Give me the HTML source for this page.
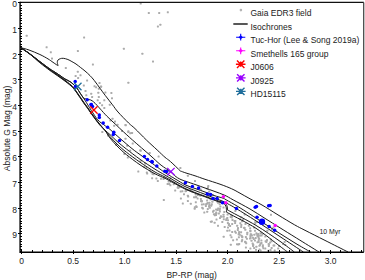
<!DOCTYPE html><html><head><meta charset="utf-8"><style>html,body{margin:0;padding:0;background:#fff;}svg{display:block;}</style></head><body><svg width="365" height="280" viewBox="0 0 365 280">
<rect width="365" height="280" fill="#fff"/>
<g fill="#ababab">
<rect x="25.7" y="34.7" width="2" height="2" rx="0.5"/>
<rect x="83.1" y="36.5" width="2" height="2" rx="0.5"/>
<rect x="45.6" y="46.3" width="2" height="2" rx="0.5"/>
<rect x="49.8" y="51.3" width="2" height="2" rx="0.5"/>
<rect x="76.9" y="50.0" width="2" height="2" rx="0.5"/>
<rect x="51.0" y="57.4" width="2" height="2" rx="0.5"/>
<rect x="139.7" y="2.6" width="2" height="2" rx="0.5"/>
<rect x="147.8" y="12.1" width="2" height="2" rx="0.5"/>
<rect x="158.2" y="12.1" width="2" height="2" rx="0.5"/>
<rect x="166.8" y="11.3" width="2" height="2" rx="0.5"/>
<rect x="159.4" y="23.7" width="2" height="2" rx="0.5"/>
<rect x="156.9" y="25.6" width="2" height="2" rx="0.5"/>
<rect x="122.9" y="47.8" width="2" height="2" rx="0.5"/>
<rect x="141.4" y="52.7" width="2" height="2" rx="0.5"/>
<rect x="152.0" y="60.6" width="2" height="2" rx="0.5"/>
<rect x="127.4" y="81.8" width="2" height="2" rx="0.5"/>
<rect x="97.8" y="87.8" width="2" height="2" rx="0.5"/>
<rect x="100.0" y="85.6" width="2" height="2" rx="0.5"/>
<rect x="97.3" y="91.7" width="2" height="2" rx="0.5"/>
<rect x="104.4" y="91.5" width="2" height="2" rx="0.5"/>
<rect x="110.4" y="91.9" width="2" height="2" rx="0.5"/>
<rect x="97.8" y="96.1" width="2" height="2" rx="0.5"/>
<rect x="111.0" y="97.2" width="2" height="2" rx="0.5"/>
<rect x="96.7" y="99.3" width="2" height="2" rx="0.5"/>
<rect x="103.3" y="99.3" width="2" height="2" rx="0.5"/>
<rect x="98.9" y="102.1" width="2" height="2" rx="0.5"/>
<rect x="101.1" y="104.3" width="2" height="2" rx="0.5"/>
<rect x="108.8" y="103.7" width="2" height="2" rx="0.5"/>
<rect x="103.3" y="107.0" width="2" height="2" rx="0.5"/>
<rect x="95.1" y="86.2" width="2" height="2" rx="0.5"/>
<rect x="111.5" y="117.7" width="2" height="2" rx="0.5"/>
<rect x="113.2" y="124.8" width="2" height="2" rx="0.5"/>
<rect x="116.5" y="123.7" width="2" height="2" rx="0.5"/>
<rect x="124.7" y="124.3" width="2" height="2" rx="0.5"/>
<rect x="127.4" y="130.3" width="2" height="2" rx="0.5"/>
<rect x="130.7" y="132.0" width="2" height="2" rx="0.5"/>
<rect x="127.3" y="131.1" width="2" height="2" rx="0.5"/>
<rect x="131.1" y="131.9" width="2" height="2" rx="0.5"/>
<rect x="124.5" y="137.7" width="2" height="2" rx="0.5"/>
<rect x="131.7" y="142.6" width="2" height="2" rx="0.5"/>
<rect x="126.2" y="144.8" width="2" height="2" rx="0.5"/>
<rect x="139.3" y="149.2" width="2" height="2" rx="0.5"/>
<rect x="148.7" y="151.9" width="2" height="2" rx="0.5"/>
<rect x="139.7" y="149.7" width="2" height="2" rx="0.5"/>
<rect x="157.6" y="155.4" width="2" height="2" rx="0.5"/>
<rect x="179.4" y="166.9" width="2" height="2" rx="0.5"/>
<rect x="152.6" y="173.3" width="2" height="2" rx="0.5"/>
<rect x="151.1" y="177.3" width="2" height="2" rx="0.5"/>
<rect x="155.4" y="177.6" width="2" height="2" rx="0.5"/>
<rect x="169.7" y="177.3" width="2" height="2" rx="0.5"/>
<rect x="186.9" y="174.7" width="2" height="2" rx="0.5"/>
<rect x="194.0" y="180.0" width="2" height="2" rx="0.5"/>
<rect x="101.3" y="131.0" width="2" height="2" rx="0.5"/>
<rect x="107.0" y="134.5" width="2" height="2" rx="0.5"/>
<rect x="115.0" y="143.8" width="2" height="2" rx="0.5"/>
<rect x="123.4" y="153.1" width="2" height="2" rx="0.5"/>
<rect x="126.8" y="156.6" width="2" height="2" rx="0.5"/>
<rect x="129.2" y="149.6" width="2" height="2" rx="0.5"/>
<rect x="124.5" y="124.1" width="2" height="2" rx="0.5"/>
<rect x="129.2" y="132.2" width="2" height="2" rx="0.5"/>
<rect x="121.0" y="129.9" width="2" height="2" rx="0.5"/>
<rect x="114.0" y="120.6" width="2" height="2" rx="0.5"/>
<rect x="109.4" y="119.4" width="2" height="2" rx="0.5"/>
<rect x="137.3" y="170.5" width="2" height="2" rx="0.5"/>
<rect x="144.2" y="162.4" width="2" height="2" rx="0.5"/>
<rect x="119.0" y="139.5" width="2" height="2" rx="0.5"/>
<rect x="270.0" y="213.8" width="2" height="2" rx="0.5"/>
<rect x="64.8" y="66.9" width="2" height="2" rx="0.5"/>
<rect x="91.9" y="63.6" width="2" height="2" rx="0.5"/>
<rect x="76.8" y="70.8" width="2" height="2" rx="0.5"/>
<rect x="74.6" y="75.1" width="2" height="2" rx="0.5"/>
<rect x="79.5" y="74.3" width="2" height="2" rx="0.5"/>
<rect x="77.1" y="77.1" width="2" height="2" rx="0.5"/>
<rect x="86.1" y="79.5" width="2" height="2" rx="0.5"/>
<rect x="98.5" y="82.0" width="2" height="2" rx="0.5"/>
<rect x="82.8" y="84.5" width="2" height="2" rx="0.5"/>
<rect x="93.5" y="85.3" width="2" height="2" rx="0.5"/>
<rect x="100.1" y="85.8" width="2" height="2" rx="0.5"/>
<rect x="84.5" y="89.9" width="2" height="2" rx="0.5"/>
<rect x="90.2" y="92.7" width="2" height="2" rx="0.5"/>
<rect x="91.1" y="96.0" width="2" height="2" rx="0.5"/>
<rect x="85.3" y="94.3" width="2" height="2" rx="0.5"/>
<rect x="162.8" y="199.0" width="2" height="2" rx="0.5"/>
<rect x="139.5" y="160.2" width="2" height="2" rx="0.5"/>
<rect x="143.0" y="166.1" width="2" height="2" rx="0.5"/>
<rect x="145.6" y="166.5" width="2" height="2" rx="0.5"/>
<rect x="149.1" y="169.6" width="2" height="2" rx="0.5"/>
<rect x="145.8" y="171.5" width="2" height="2" rx="0.5"/>
<rect x="150.4" y="171.3" width="2" height="2" rx="0.5"/>
<rect x="146.2" y="172.4" width="2" height="2" rx="0.5"/>
<rect x="151.6" y="172.9" width="2" height="2" rx="0.5"/>
<rect x="162.9" y="176.7" width="2" height="2" rx="0.5"/>
<rect x="160.0" y="177.7" width="2" height="2" rx="0.5"/>
<rect x="162.5" y="178.1" width="2" height="2" rx="0.5"/>
<rect x="156.8" y="180.0" width="2" height="2" rx="0.5"/>
<rect x="167.6" y="180.4" width="2" height="2" rx="0.5"/>
<rect x="169.6" y="180.7" width="2" height="2" rx="0.5"/>
<rect x="166.6" y="183.0" width="2" height="2" rx="0.5"/>
<rect x="173.5" y="182.5" width="2" height="2" rx="0.5"/>
<rect x="168.2" y="183.0" width="2" height="2" rx="0.5"/>
<rect x="172.7" y="183.3" width="2" height="2" rx="0.5"/>
<rect x="169.4" y="184.2" width="2" height="2" rx="0.5"/>
<rect x="207.3" y="184.9" width="2" height="2" rx="0.5"/>
<rect x="177.1" y="185.6" width="2" height="2" rx="0.5"/>
<rect x="178.8" y="186.0" width="2" height="2" rx="0.5"/>
<rect x="176.6" y="186.6" width="2" height="2" rx="0.5"/>
<rect x="207.0" y="186.2" width="2" height="2" rx="0.5"/>
<rect x="177.4" y="187.0" width="2" height="2" rx="0.5"/>
<rect x="206.3" y="187.8" width="2" height="2" rx="0.5"/>
<rect x="189.3" y="188.9" width="2" height="2" rx="0.5"/>
<rect x="199.8" y="188.6" width="2" height="2" rx="0.5"/>
<rect x="174.2" y="189.6" width="2" height="2" rx="0.5"/>
<rect x="185.0" y="190.0" width="2" height="2" rx="0.5"/>
<rect x="185.8" y="189.1" width="2" height="2" rx="0.5"/>
<rect x="179.7" y="190.5" width="2" height="2" rx="0.5"/>
<rect x="181.4" y="190.3" width="2" height="2" rx="0.5"/>
<rect x="184.5" y="190.2" width="2" height="2" rx="0.5"/>
<rect x="190.8" y="190.3" width="2" height="2" rx="0.5"/>
<rect x="208.2" y="190.5" width="2" height="2" rx="0.5"/>
<rect x="183.0" y="193.3" width="2" height="2" rx="0.5"/>
<rect x="194.7" y="193.5" width="2" height="2" rx="0.5"/>
<rect x="196.8" y="193.9" width="2" height="2" rx="0.5"/>
<rect x="211.9" y="193.9" width="2" height="2" rx="0.5"/>
<rect x="186.9" y="194.7" width="2" height="2" rx="0.5"/>
<rect x="198.6" y="194.3" width="2" height="2" rx="0.5"/>
<rect x="199.5" y="194.4" width="2" height="2" rx="0.5"/>
<rect x="187.2" y="195.5" width="2" height="2" rx="0.5"/>
<rect x="195.2" y="195.9" width="2" height="2" rx="0.5"/>
<rect x="207.6" y="195.7" width="2" height="2" rx="0.5"/>
<rect x="193.0" y="196.2" width="2" height="2" rx="0.5"/>
<rect x="194.5" y="196.3" width="2" height="2" rx="0.5"/>
<rect x="206.5" y="196.2" width="2" height="2" rx="0.5"/>
<rect x="179.9" y="197.5" width="2" height="2" rx="0.5"/>
<rect x="196.6" y="197.6" width="2" height="2" rx="0.5"/>
<rect x="199.9" y="198.0" width="2" height="2" rx="0.5"/>
<rect x="209.5" y="198.4" width="2" height="2" rx="0.5"/>
<rect x="186.9" y="199.9" width="2" height="2" rx="0.5"/>
<rect x="200.9" y="199.9" width="2" height="2" rx="0.5"/>
<rect x="206.1" y="199.4" width="2" height="2" rx="0.5"/>
<rect x="200.0" y="200.0" width="2" height="2" rx="0.5"/>
<rect x="200.7" y="200.6" width="2" height="2" rx="0.5"/>
<rect x="211.4" y="200.8" width="2" height="2" rx="0.5"/>
<rect x="216.2" y="200.6" width="2" height="2" rx="0.5"/>
<rect x="218.4" y="200.7" width="2" height="2" rx="0.5"/>
<rect x="194.8" y="201.3" width="2" height="2" rx="0.5"/>
<rect x="208.4" y="201.7" width="2" height="2" rx="0.5"/>
<rect x="217.0" y="201.7" width="2" height="2" rx="0.5"/>
<rect x="181.8" y="202.6" width="2" height="2" rx="0.5"/>
<rect x="189.8" y="202.7" width="2" height="2" rx="0.5"/>
<rect x="205.9" y="202.8" width="2" height="2" rx="0.5"/>
<rect x="206.7" y="202.0" width="2" height="2" rx="0.5"/>
<rect x="200.9" y="203.6" width="2" height="2" rx="0.5"/>
<rect x="202.7" y="203.3" width="2" height="2" rx="0.5"/>
<rect x="205.1" y="203.2" width="2" height="2" rx="0.5"/>
<rect x="208.4" y="203.4" width="2" height="2" rx="0.5"/>
<rect x="210.8" y="203.3" width="2" height="2" rx="0.5"/>
<rect x="218.7" y="203.2" width="2" height="2" rx="0.5"/>
<rect x="208.4" y="204.4" width="2" height="2" rx="0.5"/>
<rect x="210.2" y="204.8" width="2" height="2" rx="0.5"/>
<rect x="195.2" y="205.2" width="2" height="2" rx="0.5"/>
<rect x="204.9" y="205.1" width="2" height="2" rx="0.5"/>
<rect x="208.0" y="205.5" width="2" height="2" rx="0.5"/>
<rect x="219.4" y="205.5" width="2" height="2" rx="0.5"/>
<rect x="193.8" y="206.2" width="2" height="2" rx="0.5"/>
<rect x="195.6" y="206.0" width="2" height="2" rx="0.5"/>
<rect x="201.2" y="206.8" width="2" height="2" rx="0.5"/>
<rect x="208.8" y="206.8" width="2" height="2" rx="0.5"/>
<rect x="222.5" y="206.4" width="2" height="2" rx="0.5"/>
<rect x="193.7" y="207.8" width="2" height="2" rx="0.5"/>
<rect x="201.9" y="207.5" width="2" height="2" rx="0.5"/>
<rect x="206.8" y="207.9" width="2" height="2" rx="0.5"/>
<rect x="217.1" y="207.4" width="2" height="2" rx="0.5"/>
<rect x="219.0" y="207.7" width="2" height="2" rx="0.5"/>
<rect x="215.1" y="208.4" width="2" height="2" rx="0.5"/>
<rect x="216.5" y="208.9" width="2" height="2" rx="0.5"/>
<rect x="212.7" y="209.8" width="2" height="2" rx="0.5"/>
<rect x="218.5" y="209.1" width="2" height="2" rx="0.5"/>
<rect x="234.3" y="210.0" width="2" height="2" rx="0.5"/>
<rect x="206.2" y="210.8" width="2" height="2" rx="0.5"/>
<rect x="212.0" y="210.7" width="2" height="2" rx="0.5"/>
<rect x="218.9" y="210.5" width="2" height="2" rx="0.5"/>
<rect x="203.3" y="211.4" width="2" height="2" rx="0.5"/>
<rect x="215.2" y="211.4" width="2" height="2" rx="0.5"/>
<rect x="223.3" y="211.1" width="2" height="2" rx="0.5"/>
<rect x="214.5" y="212.9" width="2" height="2" rx="0.5"/>
<rect x="215.4" y="212.5" width="2" height="2" rx="0.5"/>
<rect x="217.9" y="212.4" width="2" height="2" rx="0.5"/>
<rect x="212.9" y="213.2" width="2" height="2" rx="0.5"/>
<rect x="215.0" y="213.9" width="2" height="2" rx="0.5"/>
<rect x="222.5" y="213.8" width="2" height="2" rx="0.5"/>
<rect x="226.6" y="213.6" width="2" height="2" rx="0.5"/>
<rect x="243.7" y="213.4" width="2" height="2" rx="0.5"/>
<rect x="213.9" y="214.2" width="2" height="2" rx="0.5"/>
<rect x="230.3" y="214.4" width="2" height="2" rx="0.5"/>
<rect x="219.8" y="215.2" width="2" height="2" rx="0.5"/>
<rect x="220.5" y="215.7" width="2" height="2" rx="0.5"/>
<rect x="222.7" y="215.7" width="2" height="2" rx="0.5"/>
<rect x="231.0" y="215.0" width="2" height="2" rx="0.5"/>
<rect x="219.0" y="216.9" width="2" height="2" rx="0.5"/>
<rect x="229.7" y="216.1" width="2" height="2" rx="0.5"/>
<rect x="230.8" y="216.4" width="2" height="2" rx="0.5"/>
<rect x="240.3" y="216.2" width="2" height="2" rx="0.5"/>
<rect x="225.7" y="217.8" width="2" height="2" rx="0.5"/>
<rect x="226.3" y="217.1" width="2" height="2" rx="0.5"/>
<rect x="215.5" y="218.4" width="2" height="2" rx="0.5"/>
<rect x="222.8" y="218.3" width="2" height="2" rx="0.5"/>
<rect x="239.1" y="218.3" width="2" height="2" rx="0.5"/>
<rect x="242.0" y="218.7" width="2" height="2" rx="0.5"/>
<rect x="225.2" y="219.0" width="2" height="2" rx="0.5"/>
<rect x="227.0" y="219.3" width="2" height="2" rx="0.5"/>
<rect x="231.5" y="219.1" width="2" height="2" rx="0.5"/>
<rect x="233.5" y="219.9" width="2" height="2" rx="0.5"/>
<rect x="234.4" y="219.9" width="2" height="2" rx="0.5"/>
<rect x="209.9" y="220.7" width="2" height="2" rx="0.5"/>
<rect x="210.9" y="220.6" width="2" height="2" rx="0.5"/>
<rect x="241.1" y="220.3" width="2" height="2" rx="0.5"/>
<rect x="213.6" y="221.7" width="2" height="2" rx="0.5"/>
<rect x="221.3" y="221.1" width="2" height="2" rx="0.5"/>
<rect x="234.1" y="222.0" width="2" height="2" rx="0.5"/>
<rect x="254.2" y="221.3" width="2" height="2" rx="0.5"/>
<rect x="256.1" y="221.1" width="2" height="2" rx="0.5"/>
<rect x="226.9" y="222.0" width="2" height="2" rx="0.5"/>
<rect x="239.3" y="222.3" width="2" height="2" rx="0.5"/>
<rect x="244.5" y="222.9" width="2" height="2" rx="0.5"/>
<rect x="254.3" y="222.5" width="2" height="2" rx="0.5"/>
<rect x="260.3" y="222.2" width="2" height="2" rx="0.5"/>
<rect x="228.0" y="223.1" width="2" height="2" rx="0.5"/>
<rect x="231.2" y="223.1" width="2" height="2" rx="0.5"/>
<rect x="240.3" y="224.0" width="2" height="2" rx="0.5"/>
<rect x="217.0" y="224.8" width="2" height="2" rx="0.5"/>
<rect x="227.8" y="224.0" width="2" height="2" rx="0.5"/>
<rect x="236.1" y="224.7" width="2" height="2" rx="0.5"/>
<rect x="247.9" y="224.7" width="2" height="2" rx="0.5"/>
<rect x="223.7" y="226.0" width="2" height="2" rx="0.5"/>
<rect x="229.1" y="225.0" width="2" height="2" rx="0.5"/>
<rect x="227.0" y="226.5" width="2" height="2" rx="0.5"/>
<rect x="237.0" y="226.9" width="2" height="2" rx="0.5"/>
<rect x="240.2" y="226.1" width="2" height="2" rx="0.5"/>
<rect x="243.3" y="226.7" width="2" height="2" rx="0.5"/>
<rect x="253.1" y="226.6" width="2" height="2" rx="0.5"/>
<rect x="272.4" y="226.4" width="2" height="2" rx="0.5"/>
<rect x="243.3" y="227.1" width="2" height="2" rx="0.5"/>
<rect x="249.2" y="227.2" width="2" height="2" rx="0.5"/>
<rect x="236.8" y="228.9" width="2" height="2" rx="0.5"/>
<rect x="244.3" y="228.8" width="2" height="2" rx="0.5"/>
<rect x="270.9" y="228.2" width="2" height="2" rx="0.5"/>
<rect x="226.3" y="229.7" width="2" height="2" rx="0.5"/>
<rect x="228.5" y="229.4" width="2" height="2" rx="0.5"/>
<rect x="249.3" y="229.7" width="2" height="2" rx="0.5"/>
<rect x="254.0" y="229.7" width="2" height="2" rx="0.5"/>
<rect x="266.4" y="229.7" width="2" height="2" rx="0.5"/>
<rect x="231.2" y="230.9" width="2" height="2" rx="0.5"/>
<rect x="234.1" y="230.6" width="2" height="2" rx="0.5"/>
<rect x="238.1" y="230.9" width="2" height="2" rx="0.5"/>
<rect x="249.4" y="230.2" width="2" height="2" rx="0.5"/>
<rect x="234.9" y="231.8" width="2" height="2" rx="0.5"/>
<rect x="238.1" y="231.9" width="2" height="2" rx="0.5"/>
<rect x="240.1" y="231.2" width="2" height="2" rx="0.5"/>
<rect x="246.3" y="231.8" width="2" height="2" rx="0.5"/>
<rect x="260.7" y="231.9" width="2" height="2" rx="0.5"/>
<rect x="255.4" y="232.2" width="2" height="2" rx="0.5"/>
<rect x="257.2" y="232.9" width="2" height="2" rx="0.5"/>
<rect x="259.5" y="232.2" width="2" height="2" rx="0.5"/>
<rect x="237.6" y="233.3" width="2" height="2" rx="0.5"/>
<rect x="238.6" y="233.8" width="2" height="2" rx="0.5"/>
<rect x="246.2" y="233.2" width="2" height="2" rx="0.5"/>
<rect x="249.6" y="233.2" width="2" height="2" rx="0.5"/>
<rect x="250.3" y="233.4" width="2" height="2" rx="0.5"/>
<rect x="253.4" y="233.8" width="2" height="2" rx="0.5"/>
<rect x="256.3" y="233.8" width="2" height="2" rx="0.5"/>
<rect x="261.6" y="233.3" width="2" height="2" rx="0.5"/>
<rect x="229.5" y="234.3" width="2" height="2" rx="0.5"/>
<rect x="240.5" y="234.8" width="2" height="2" rx="0.5"/>
<rect x="250.9" y="234.5" width="2" height="2" rx="0.5"/>
<rect x="257.4" y="234.2" width="2" height="2" rx="0.5"/>
<rect x="259.2" y="234.6" width="2" height="2" rx="0.5"/>
<rect x="260.5" y="234.6" width="2" height="2" rx="0.5"/>
<rect x="222.7" y="235.8" width="2" height="2" rx="0.5"/>
<rect x="241.1" y="235.7" width="2" height="2" rx="0.5"/>
<rect x="249.4" y="235.1" width="2" height="2" rx="0.5"/>
<rect x="256.5" y="235.1" width="2" height="2" rx="0.5"/>
<rect x="257.3" y="235.3" width="2" height="2" rx="0.5"/>
<rect x="264.3" y="235.5" width="2" height="2" rx="0.5"/>
<rect x="230.5" y="236.2" width="2" height="2" rx="0.5"/>
<rect x="237.9" y="236.2" width="2" height="2" rx="0.5"/>
<rect x="241.3" y="236.3" width="2" height="2" rx="0.5"/>
<rect x="244.9" y="236.0" width="2" height="2" rx="0.5"/>
<rect x="252.0" y="236.8" width="2" height="2" rx="0.5"/>
<rect x="257.5" y="236.4" width="2" height="2" rx="0.5"/>
<rect x="245.9" y="237.8" width="2" height="2" rx="0.5"/>
<rect x="249.0" y="237.6" width="2" height="2" rx="0.5"/>
<rect x="249.6" y="237.0" width="2" height="2" rx="0.5"/>
<rect x="254.7" y="237.1" width="2" height="2" rx="0.5"/>
<rect x="258.1" y="237.7" width="2" height="2" rx="0.5"/>
<rect x="235.9" y="238.4" width="2" height="2" rx="0.5"/>
<rect x="252.8" y="238.1" width="2" height="2" rx="0.5"/>
<rect x="266.0" y="238.9" width="2" height="2" rx="0.5"/>
<rect x="269.8" y="238.4" width="2" height="2" rx="0.5"/>
<rect x="232.1" y="239.3" width="2" height="2" rx="0.5"/>
<rect x="241.2" y="239.1" width="2" height="2" rx="0.5"/>
<rect x="250.5" y="239.7" width="2" height="2" rx="0.5"/>
<rect x="254.0" y="239.5" width="2" height="2" rx="0.5"/>
<rect x="257.7" y="239.3" width="2" height="2" rx="0.5"/>
<rect x="260.4" y="239.5" width="2" height="2" rx="0.5"/>
<rect x="265.9" y="239.5" width="2" height="2" rx="0.5"/>
<rect x="240.8" y="240.2" width="2" height="2" rx="0.5"/>
<rect x="244.1" y="240.7" width="2" height="2" rx="0.5"/>
<rect x="257.7" y="240.9" width="2" height="2" rx="0.5"/>
<rect x="264.6" y="240.2" width="2" height="2" rx="0.5"/>
<rect x="265.4" y="241.0" width="2" height="2" rx="0.5"/>
<rect x="270.6" y="240.2" width="2" height="2" rx="0.5"/>
<rect x="283.6" y="240.9" width="2" height="2" rx="0.5"/>
<rect x="244.5" y="241.3" width="2" height="2" rx="0.5"/>
<rect x="256.5" y="241.2" width="2" height="2" rx="0.5"/>
<rect x="260.5" y="242.0" width="2" height="2" rx="0.5"/>
<rect x="269.1" y="241.4" width="2" height="2" rx="0.5"/>
<rect x="245.2" y="242.3" width="2" height="2" rx="0.5"/>
<rect x="251.6" y="242.6" width="2" height="2" rx="0.5"/>
<rect x="259.6" y="242.6" width="2" height="2" rx="0.5"/>
<rect x="267.7" y="243.0" width="2" height="2" rx="0.5"/>
<rect x="229.8" y="243.8" width="2" height="2" rx="0.5"/>
<rect x="236.0" y="243.2" width="2" height="2" rx="0.5"/>
<rect x="237.4" y="243.6" width="2" height="2" rx="0.5"/>
<rect x="238.2" y="243.1" width="2" height="2" rx="0.5"/>
<rect x="252.2" y="243.4" width="2" height="2" rx="0.5"/>
<rect x="259.1" y="243.8" width="2" height="2" rx="0.5"/>
<rect x="267.9" y="243.4" width="2" height="2" rx="0.5"/>
<rect x="282.1" y="243.1" width="2" height="2" rx="0.5"/>
<rect x="252.1" y="244.1" width="2" height="2" rx="0.5"/>
<rect x="258.5" y="244.8" width="2" height="2" rx="0.5"/>
<rect x="261.9" y="244.2" width="2" height="2" rx="0.5"/>
<rect x="272.5" y="244.4" width="2" height="2" rx="0.5"/>
<rect x="273.3" y="244.5" width="2" height="2" rx="0.5"/>
<rect x="278.2" y="244.9" width="2" height="2" rx="0.5"/>
<rect x="284.2" y="244.1" width="2" height="2" rx="0.5"/>
<rect x="252.1" y="245.1" width="2" height="2" rx="0.5"/>
<rect x="255.4" y="245.8" width="2" height="2" rx="0.5"/>
<rect x="261.9" y="245.7" width="2" height="2" rx="0.5"/>
<rect x="267.8" y="245.1" width="2" height="2" rx="0.5"/>
<rect x="244.9" y="246.4" width="2" height="2" rx="0.5"/>
<rect x="270.6" y="246.9" width="2" height="2" rx="0.5"/>
<rect x="249.4" y="247.6" width="2" height="2" rx="0.5"/>
<rect x="253.1" y="247.1" width="2" height="2" rx="0.5"/>
<rect x="262.4" y="247.2" width="2" height="2" rx="0.5"/>
<rect x="264.3" y="247.6" width="2" height="2" rx="0.5"/>
<rect x="277.2" y="247.6" width="2" height="2" rx="0.5"/>
<rect x="255.0" y="248.7" width="2" height="2" rx="0.5"/>
<rect x="258.5" y="248.6" width="2" height="2" rx="0.5"/>
<rect x="269.5" y="248.9" width="2" height="2" rx="0.5"/>
<rect x="259.6" y="249.4" width="2" height="2" rx="0.5"/>
<rect x="267.2" y="249.7" width="2" height="2" rx="0.5"/>
<rect x="273.7" y="249.4" width="2" height="2" rx="0.5"/>
</g>
<g fill="none" stroke="#1a1a1a" stroke-width="1.0" stroke-linejoin="round">
<path d="M20.50,47.60 C21.92,48.00 25.77,48.85 29.00,50.00 C32.23,51.15 36.73,53.02 39.90,54.50 C43.07,55.98 45.82,57.60 48.00,58.90 C50.18,60.20 51.62,61.35 53.00,62.30 C54.38,63.25 55.45,64.05 56.30,64.60 C57.15,65.15 57.80,65.43 58.10,65.60 C57.97,65.10 57.33,63.52 57.30,62.60 C57.27,61.68 57.40,60.75 57.90,60.10 C58.40,59.45 59.40,59.00 60.30,58.70 C61.20,58.40 62.03,58.17 63.30,58.30 C64.57,58.43 66.47,58.95 67.90,59.50 C69.33,60.05 70.55,60.85 71.90,61.60 C73.25,62.35 74.53,63.00 76.00,64.00 C77.47,65.00 79.20,66.43 80.70,67.60 C82.20,68.77 83.45,69.67 85.00,71.00 C86.55,72.33 88.45,74.02 90.00,75.60 C91.55,77.18 92.63,78.38 94.30,80.50 C95.97,82.62 98.17,85.80 100.00,88.30 C101.83,90.80 103.22,92.75 105.30,95.50 C107.38,98.25 110.38,102.05 112.50,104.80 C114.62,107.55 115.32,108.97 118.00,112.00 C120.68,115.03 125.77,120.23 128.60,123.00 C131.43,125.77 132.03,125.77 135.00,128.60 C137.97,131.43 142.70,136.43 146.40,140.00 C150.10,143.57 154.10,147.12 157.20,150.00 C160.30,152.88 162.78,155.37 165.00,157.30 C167.22,159.23 167.93,159.32 170.50,161.60 C173.07,163.88 178.75,169.43 180.40,171.00 C181.33,171.33 183.57,172.20 186.00,173.00 C188.43,173.80 191.83,174.75 195.00,175.80 C198.17,176.85 200.83,177.90 205.00,179.30 C209.17,180.70 215.55,182.62 220.00,184.20 C224.45,185.78 228.37,187.30 231.70,188.80 C235.03,190.30 236.95,191.53 240.00,193.20 C243.05,194.87 246.33,196.83 250.00,198.80 C253.67,200.77 257.33,202.32 262.00,205.00 C266.67,207.68 272.55,211.58 278.00,214.90 C283.45,218.22 290.20,222.33 294.70,224.90 C299.20,227.47 299.95,227.72 305.00,230.30 C310.05,232.88 317.83,236.78 325.00,240.40 C332.17,244.02 344.17,250.07 348.00,252.00"/>
<path d="M20.50,47.60 C21.92,48.53 25.77,50.87 29.00,53.20 C32.23,55.53 36.43,58.98 39.90,61.60 C43.37,64.22 47.28,67.13 49.80,68.90 C52.32,70.67 53.30,71.10 55.00,72.20 C56.70,73.30 58.33,74.37 60.00,75.50 C61.67,76.63 63.18,77.88 65.00,79.00 C66.82,80.12 68.97,80.75 70.90,82.20 C72.83,83.65 75.07,85.88 76.60,87.70 C78.13,89.52 78.93,91.35 80.10,93.10 C81.27,94.85 83.02,97.35 83.60,98.20 C84.23,98.38 86.22,99.00 87.40,99.30 C88.58,99.60 89.68,99.58 90.70,100.00 C91.72,100.42 92.45,100.92 93.50,101.80 C94.55,102.68 95.83,104.07 97.00,105.30 C98.17,106.53 98.87,107.40 100.50,109.20 C102.13,111.00 104.35,113.63 106.80,116.10 C109.25,118.57 112.83,121.77 115.20,124.00 C117.57,126.23 118.08,126.80 121.00,129.50 C123.92,132.20 127.87,135.92 132.70,140.20 C137.53,144.48 145.45,151.18 150.00,155.20 C154.55,159.22 157.23,162.00 160.00,164.30 C162.77,166.60 164.83,167.73 166.60,169.00 C168.37,170.27 169.30,170.83 170.60,171.90 C171.90,172.97 173.23,174.42 174.40,175.40 C175.57,176.38 176.50,177.10 177.60,177.80 C178.70,178.50 179.60,179.00 181.00,179.60 C182.40,180.20 183.50,180.53 186.00,181.40 C188.50,182.27 192.83,183.70 196.00,184.80 C199.17,185.90 202.00,186.93 205.00,188.00 C208.00,189.07 210.70,189.98 214.00,191.20 C217.30,192.42 221.60,193.85 224.80,195.30 C228.00,196.75 229.00,197.62 233.20,199.90 C237.40,202.18 244.70,205.92 250.00,209.00 C255.30,212.08 260.00,215.27 265.00,218.40 C270.00,221.53 274.77,224.53 280.00,227.80 C285.23,231.07 289.90,233.97 296.40,238.00 C302.90,242.03 315.23,249.67 319.00,252.00"/>
<path d="M20.50,47.60 C21.92,48.53 25.77,50.87 29.00,53.20 C32.23,55.53 36.43,58.98 39.90,61.60 C43.37,64.22 47.28,67.13 49.80,68.90 C52.32,70.67 53.30,71.10 55.00,72.20 C56.70,73.30 58.33,74.37 60.00,75.50 C61.67,76.63 63.18,77.88 65.00,79.00 C66.82,80.12 68.97,80.75 70.90,82.20 C72.83,83.65 75.07,85.88 76.60,87.70 C78.13,89.52 78.93,91.35 80.10,93.10 C81.27,94.85 82.57,96.65 83.60,98.20 C84.63,99.75 85.32,100.83 86.30,102.40 C87.28,103.97 88.38,105.83 89.50,107.60 C90.62,109.37 91.92,111.33 93.00,113.00 C94.08,114.67 94.92,116.17 96.00,117.60 C97.08,119.03 98.32,120.50 99.50,121.60 C100.68,122.70 101.78,123.22 103.10,124.20 C104.42,125.18 106.25,126.63 107.40,127.50 C108.55,128.37 107.90,127.58 110.00,129.40 C112.10,131.22 116.33,135.20 120.00,138.40 C123.67,141.60 128.67,145.90 132.00,148.60 C135.33,151.30 137.00,152.40 140.00,154.60 C143.00,156.80 147.00,159.63 150.00,161.80 C153.00,163.97 155.50,165.80 158.00,167.60 C160.50,169.40 161.67,170.43 165.00,172.60 C168.33,174.77 174.50,178.50 178.00,180.60 C181.50,182.70 183.00,183.83 186.00,185.20 C189.00,186.57 192.83,187.67 196.00,188.80 C199.17,189.93 202.00,190.88 205.00,192.00 C208.00,193.12 210.98,194.47 214.00,195.50 C217.02,196.53 221.08,197.48 223.10,198.20 C225.12,198.92 223.62,198.40 226.10,199.80 C228.58,201.20 234.02,204.20 238.00,206.60 C241.98,209.00 245.50,211.30 250.00,214.20 C254.50,217.10 260.00,220.77 265.00,224.00 C270.00,227.23 275.00,230.43 280.00,233.60 C285.00,236.77 289.92,239.93 295.00,243.00 C300.08,246.07 307.92,250.50 310.50,252.00"/>
<path d="M20.50,47.60 C21.92,48.57 25.77,51.02 29.00,53.40 C32.23,55.78 36.43,59.22 39.90,61.90 C43.37,64.58 47.28,67.63 49.80,69.50 C52.32,71.37 53.30,71.92 55.00,73.10 C56.70,74.28 58.17,75.28 60.00,76.60 C61.83,77.92 63.93,79.38 66.00,81.00 C68.07,82.62 70.80,84.75 72.40,86.30 C74.00,87.85 74.52,88.83 75.60,90.30 C76.68,91.77 77.95,93.73 78.90,95.10 C79.85,96.47 80.52,97.35 81.30,98.50 C82.08,99.65 82.48,100.42 83.60,102.00 C84.72,103.58 86.60,106.02 88.00,108.00 C89.40,109.98 90.67,112.02 92.00,113.90 C93.33,115.78 94.67,117.55 96.00,119.30 C97.33,121.05 98.53,122.62 100.00,124.40 C101.47,126.18 103.13,128.30 104.80,130.00 C106.47,131.70 107.80,132.57 110.00,134.60 C112.20,136.63 115.27,139.80 118.00,142.20 C120.73,144.60 122.73,146.15 126.40,149.00 C130.07,151.85 135.23,155.93 140.00,159.30 C144.77,162.67 150.83,166.57 155.00,169.20 C159.17,171.83 161.17,172.83 165.00,175.10 C168.83,177.37 174.50,180.82 178.00,182.80 C181.50,184.78 183.00,185.65 186.00,187.00 C189.00,188.35 192.83,189.68 196.00,190.90 C199.17,192.12 202.00,193.13 205.00,194.30 C208.00,195.47 210.80,196.65 214.00,197.90 C217.20,199.15 221.87,200.80 224.20,201.80 C226.53,202.80 225.98,202.77 228.00,203.90 C230.02,205.03 231.63,205.77 236.30,208.60 C240.97,211.43 248.72,216.23 256.00,220.90 C263.28,225.57 272.10,231.42 280.00,236.60 C287.90,241.78 299.50,249.43 303.40,252.00"/>
<path d="M20.50,47.60 C21.92,48.57 25.77,51.02 29.00,53.40 C32.23,55.78 36.43,59.14 39.90,61.90 C43.37,64.66 47.28,68.01 49.80,69.95 C52.32,71.89 53.30,72.37 55.00,73.55 C56.70,74.73 58.17,75.73 60.00,77.05 C61.83,78.37 63.93,79.83 66.00,81.45 C68.07,83.07 70.80,85.20 72.40,86.75 C74.00,88.30 74.52,89.28 75.60,90.75 C76.68,92.22 77.95,94.18 78.90,95.55 C79.85,96.92 80.52,97.80 81.30,98.95 C82.08,100.10 82.48,100.87 83.60,102.45 C84.72,104.03 86.60,106.47 88.00,108.45 C89.40,110.43 90.67,112.47 92.00,114.35 C93.33,116.23 94.67,118.00 96.00,119.75 C97.33,121.50 98.53,123.07 100.00,124.85 C101.47,126.63 103.13,128.49 104.80,130.45 C106.47,132.41 107.80,134.17 110.00,136.60 C112.20,139.03 115.27,142.40 118.00,145.00 C120.73,147.60 122.73,149.33 126.40,152.20 C130.07,155.07 135.23,158.90 140.00,162.20 C144.77,165.50 150.83,169.53 155.00,172.00 C159.17,174.47 161.17,174.90 165.00,177.00 C168.83,179.10 174.50,182.62 178.00,184.60 C181.50,186.58 183.00,187.52 186.00,188.90 C189.00,190.28 192.83,191.68 196.00,192.90 C199.17,194.12 202.00,195.10 205.00,196.20 C208.00,197.30 210.87,198.40 214.00,199.50 C217.13,200.60 221.77,202.00 223.80,202.80 C225.83,203.60 225.63,203.68 226.20,204.30 C226.77,204.92 227.03,206.13 227.20,206.50 C227.27,207.02 227.53,209.08 227.60,209.60 C227.97,209.87 225.07,208.57 229.80,211.20 C234.53,213.83 247.63,220.38 256.00,225.40 C264.37,230.42 273.62,236.87 280.00,241.30 C286.38,245.73 291.92,250.22 294.30,252.00"/>
<path d="M20.50,47.60 C21.92,48.57 25.77,50.87 29.00,53.40 C32.23,55.93 36.43,59.97 39.90,62.80 C43.37,65.63 47.28,68.53 49.80,70.40 C52.32,72.27 53.30,72.82 55.00,74.00 C56.70,75.18 58.17,76.18 60.00,77.50 C61.83,78.82 63.93,80.28 66.00,81.90 C68.07,83.52 70.80,85.65 72.40,87.20 C74.00,88.75 74.52,89.73 75.60,91.20 C76.68,92.67 77.95,94.63 78.90,96.00 C79.85,97.37 80.52,98.25 81.30,99.40 C82.08,100.55 82.48,101.32 83.60,102.90 C84.72,104.48 86.60,106.92 88.00,108.90 C89.40,110.88 90.67,112.92 92.00,114.80 C93.33,116.68 94.67,118.45 96.00,120.20 C97.33,121.95 98.53,123.67 100.00,125.30 C101.47,126.93 103.13,127.88 104.80,130.00 C106.47,132.12 107.80,135.17 110.00,138.00 C112.20,140.83 115.27,144.23 118.00,147.00 C120.73,149.77 122.73,151.63 126.40,154.60 C130.07,157.57 135.23,161.60 140.00,164.80 C144.77,168.00 150.83,171.55 155.00,173.80 C159.17,176.05 161.17,176.38 165.00,178.30 C168.83,180.22 174.50,183.43 178.00,185.30 C181.50,187.17 183.00,188.13 186.00,189.50 C189.00,190.87 192.83,192.28 196.00,193.50 C199.17,194.72 202.00,195.70 205.00,196.80 C208.00,197.90 211.03,199.02 214.00,200.10 C216.97,201.18 220.93,202.50 222.80,203.30 C224.67,204.10 224.63,204.25 225.20,204.90 C225.77,205.55 226.03,206.82 226.20,207.20 C226.27,207.90 226.53,210.70 226.60,211.40 C226.97,211.73 223.90,210.58 228.80,213.40 C233.70,216.22 247.47,222.82 256.00,228.30 C264.53,233.78 274.75,242.35 280.00,246.30 C285.25,250.25 286.25,251.05 287.50,252.00"/>
</g>
<path d="M20.1,2.4 H363.8" stroke="#111" stroke-width="1.2"/>
<path d="M363.7,2.4 V252.2" stroke="#444" stroke-width="1.25"/>
<path d="M20.1,1.7 V252.89999999999998" stroke="#000" stroke-width="1.4"/>
<path d="M20.1,252.2 H363.8" stroke="#000" stroke-width="1.4"/>
<path d="M18.2,2.96 H22.1 M20.1,5.53 H22.4 M20.1,8.09 H22.4 M20.1,10.66 H22.4 M20.1,13.22 H22.4 M20.1,15.79 H22.4 M20.1,18.36 H22.4 M20.1,20.92 H22.4 M20.1,23.49 H22.4 M20.1,26.05 H22.4 M18.2,28.62 H22.1 M20.1,31.19 H22.4 M20.1,33.75 H22.4 M20.1,36.32 H22.4 M20.1,38.88 H22.4 M20.1,41.45 H22.4 M20.1,44.02 H22.4 M20.1,46.58 H22.4 M20.1,49.15 H22.4 M20.1,51.71 H22.4 M18.2,54.28 H22.1 M20.1,56.85 H22.4 M20.1,59.41 H22.4 M20.1,61.98 H22.4 M20.1,64.54 H22.4 M20.1,67.11 H22.4 M20.1,69.68 H22.4 M20.1,72.24 H22.4 M20.1,74.81 H22.4 M20.1,77.37 H22.4 M18.2,79.94 H22.1 M20.1,82.51 H22.4 M20.1,85.07 H22.4 M20.1,87.64 H22.4 M20.1,90.20 H22.4 M20.1,92.77 H22.4 M20.1,95.34 H22.4 M20.1,97.90 H22.4 M20.1,100.47 H22.4 M20.1,103.03 H22.4 M18.2,105.60 H22.1 M20.1,108.17 H22.4 M20.1,110.73 H22.4 M20.1,113.30 H22.4 M20.1,115.86 H22.4 M20.1,118.43 H22.4 M20.1,121.00 H22.4 M20.1,123.56 H22.4 M20.1,126.13 H22.4 M20.1,128.69 H22.4 M18.2,131.26 H22.1 M20.1,133.83 H22.4 M20.1,136.39 H22.4 M20.1,138.96 H22.4 M20.1,141.52 H22.4 M20.1,144.09 H22.4 M20.1,146.66 H22.4 M20.1,149.22 H22.4 M20.1,151.79 H22.4 M20.1,154.35 H22.4 M18.2,156.92 H22.1 M20.1,159.49 H22.4 M20.1,162.05 H22.4 M20.1,164.62 H22.4 M20.1,167.18 H22.4 M20.1,169.75 H22.4 M20.1,172.32 H22.4 M20.1,174.88 H22.4 M20.1,177.45 H22.4 M20.1,180.01 H22.4 M18.2,182.58 H22.1 M20.1,185.15 H22.4 M20.1,187.71 H22.4 M20.1,190.28 H22.4 M20.1,192.84 H22.4 M20.1,195.41 H22.4 M20.1,197.98 H22.4 M20.1,200.54 H22.4 M20.1,203.11 H22.4 M20.1,205.67 H22.4 M18.2,208.24 H22.1 M20.1,210.81 H22.4 M20.1,213.37 H22.4 M20.1,215.94 H22.4 M20.1,218.50 H22.4 M20.1,221.07 H22.4 M20.1,223.64 H22.4 M20.1,226.20 H22.4 M20.1,228.77 H22.4 M20.1,231.33 H22.4 M18.2,233.90 H22.1 M20.1,236.47 H22.4 M20.1,239.03 H22.4 M20.1,241.60 H22.4 M20.1,244.16 H22.4 M20.1,246.73 H22.4 M20.1,249.30 H22.4 M20.1,251.86 H22.4" stroke="#000" stroke-width="1" shape-rendering="crispEdges"/>
<path d="M21.70,250.2 V254.3 M32.00,249.8 V252.2 M42.29,249.8 V252.2 M52.58,249.8 V252.2 M62.88,249.8 V252.2 M73.17,250.2 V254.3 M83.47,249.8 V252.2 M93.77,249.8 V252.2 M104.06,249.8 V252.2 M114.36,249.8 V252.2 M124.65,250.2 V254.3 M134.95,249.8 V252.2 M145.24,249.8 V252.2 M155.53,249.8 V252.2 M165.83,249.8 V252.2 M176.12,250.2 V254.3 M186.42,249.8 V252.2 M196.71,249.8 V252.2 M207.01,249.8 V252.2 M217.30,249.8 V252.2 M227.60,250.2 V254.3 M237.90,249.8 V252.2 M248.19,249.8 V252.2 M258.49,249.8 V252.2 M268.78,249.8 V252.2 M279.07,250.2 V254.3 M289.37,249.8 V252.2 M299.67,249.8 V252.2 M309.96,249.8 V252.2 M320.25,249.8 V252.2 M330.55,250.2 V254.3 M340.85,249.8 V252.2 M351.14,249.8 V252.2 M361.44,249.8 V252.2" stroke="#000" stroke-width="1" shape-rendering="crispEdges"/>
<text x="17.0" y="7.4" text-anchor="end" font-family="Liberation Sans, sans-serif" font-size="8.5" fill="#222">0</text>
<text x="17.0" y="33.0" text-anchor="end" font-family="Liberation Sans, sans-serif" font-size="8.5" fill="#222">1</text>
<text x="17.0" y="58.7" text-anchor="end" font-family="Liberation Sans, sans-serif" font-size="8.5" fill="#222">2</text>
<text x="17.0" y="84.3" text-anchor="end" font-family="Liberation Sans, sans-serif" font-size="8.5" fill="#222">3</text>
<text x="17.0" y="110.0" text-anchor="end" font-family="Liberation Sans, sans-serif" font-size="8.5" fill="#222">4</text>
<text x="17.0" y="135.7" text-anchor="end" font-family="Liberation Sans, sans-serif" font-size="8.5" fill="#222">5</text>
<text x="17.0" y="161.3" text-anchor="end" font-family="Liberation Sans, sans-serif" font-size="8.5" fill="#222">6</text>
<text x="17.0" y="187.0" text-anchor="end" font-family="Liberation Sans, sans-serif" font-size="8.5" fill="#222">7</text>
<text x="17.0" y="212.6" text-anchor="end" font-family="Liberation Sans, sans-serif" font-size="8.5" fill="#222">8</text>
<text x="17.0" y="238.3" text-anchor="end" font-family="Liberation Sans, sans-serif" font-size="8.5" fill="#222">9</text>
<text x="21.7" y="264.3" text-anchor="middle" font-family="Liberation Sans, sans-serif" font-size="8.5" fill="#222">0</text>
<text x="73.2" y="264.3" text-anchor="middle" font-family="Liberation Sans, sans-serif" font-size="8.5" fill="#222">0.5</text>
<text x="124.7" y="264.3" text-anchor="middle" font-family="Liberation Sans, sans-serif" font-size="8.5" fill="#222">1.0</text>
<text x="176.1" y="264.3" text-anchor="middle" font-family="Liberation Sans, sans-serif" font-size="8.5" fill="#222">1.5</text>
<text x="227.6" y="264.3" text-anchor="middle" font-family="Liberation Sans, sans-serif" font-size="8.5" fill="#222">2.0</text>
<text x="279.1" y="264.3" text-anchor="middle" font-family="Liberation Sans, sans-serif" font-size="8.5" fill="#222">2.5</text>
<text x="330.6" y="264.3" text-anchor="middle" font-family="Liberation Sans, sans-serif" font-size="8.5" fill="#222">3.0</text>
<text x="191.6" y="277.9" text-anchor="middle" font-family="Liberation Sans, sans-serif" font-size="8.5" fill="#222">BP-RP (mag)</text>
<text transform="translate(10.2,128.4) rotate(-90)" text-anchor="middle" font-family="Liberation Sans, sans-serif" font-size="8.5" fill="#222">Absolute G Mag (mag)</text>
<text x="319.4" y="234.2" font-family="Liberation Sans, sans-serif" font-size="6.9" fill="#222">10 Myr</text>
<circle cx="240.9" cy="10.1" r="1.3" fill="#b4b4b4"/>
<path d="M233.3,24 H247.7" stroke="#111" stroke-width="1.4"/>
<text x="250.5" y="16.3" font-family="Liberation Sans, sans-serif" font-size="8.5" fill="#222">Gaia EDR3 field</text>
<text x="250.5" y="29.8" font-family="Liberation Sans, sans-serif" font-size="8.5" fill="#222">Isochrones</text>
<text x="250.5" y="43.2" font-family="Liberation Sans, sans-serif" font-size="8.5" fill="#222">Tuc-Hor (Lee &amp; Song 2019a)</text>
<text x="250.5" y="56.6" font-family="Liberation Sans, sans-serif" font-size="8.5" fill="#222">Smethells 165 group</text>
<text x="250.5" y="70.1" font-family="Liberation Sans, sans-serif" font-size="8.5" fill="#222">J0606</text>
<text x="250.5" y="83.5" font-family="Liberation Sans, sans-serif" font-size="8.5" fill="#222">J0925</text>
<text x="250.5" y="97.0" font-family="Liberation Sans, sans-serif" font-size="8.5" fill="#222">HD15115</text>
<g stroke="#0000ff" stroke-width="1.1"><path d="M236.1,37.2 H245.29999999999998 M240.7,33.800000000000004 V40.6"/></g><path d="M238.5,37.2 L240.7,35.2 L242.89999999999998,37.2 L240.7,39.2 Z" fill="#0000ff"/>
<g stroke="#ff00ff" stroke-width="1.1"><path d="M236.1,50.8 H245.29999999999998 M240.7,47.4 V54.199999999999996"/></g><path d="M238.5,50.8 L240.7,48.8 L242.89999999999998,50.8 L240.7,52.8 Z" fill="#ff00ff"/>
<g stroke="#ff0000" stroke-width="1.4"><path d="M237.0,60.5 L244.39999999999998,67.9 M244.39999999999998,60.5 L237.0,67.9 M235.89999999999998,64.2 H245.5 M240.7,61.6 V66.8"/></g><circle cx="240.7" cy="64.2" r="1.8" fill="#ff0000"/>
<g stroke="#9900ff" stroke-width="1.4"><path d="M237.10000000000002,74.2 L244.5,81.60000000000001 M244.5,74.2 L237.10000000000002,81.60000000000001 M236.0,77.9 H245.60000000000002 M240.8,75.30000000000001 V80.5"/></g><circle cx="240.8" cy="77.9" r="1.8" fill="#9900ff"/>
<g stroke="#1f6e9c" stroke-width="1.4"><path d="M237.10000000000002,87.7 L244.5,95.10000000000001 M244.5,87.7 L237.10000000000002,95.10000000000001 M236.0,91.4 H245.60000000000002 M240.8,88.80000000000001 V94.0"/></g><circle cx="240.8" cy="91.4" r="1.8" fill="#1f6e9c"/>
<g fill="#0000ff">
<circle cx="75.2" cy="81.6" r="1.75"/>
<circle cx="75.5" cy="86.4" r="1.75"/>
<circle cx="87.2" cy="99.7" r="1.75"/>
<circle cx="91.3" cy="104.6" r="1.75"/>
<circle cx="91" cy="104.5" r="1.75"/>
<circle cx="92.5" cy="106.5" r="1.75"/>
<circle cx="99.3" cy="115" r="1.75"/>
<circle cx="99.3" cy="117.5" r="1.75"/>
<circle cx="103.2" cy="122.9" r="1.75"/>
<circle cx="107.6" cy="127.3" r="1.75"/>
<circle cx="113.8" cy="132.2" r="1.75"/>
<circle cx="113.3" cy="134.6" r="1.75"/>
<circle cx="119.6" cy="140.4" r="1.75"/>
<circle cx="144.4" cy="156.5" r="1.75"/>
<circle cx="147.5" cy="159.4" r="1.75"/>
<circle cx="151.8" cy="161.6" r="1.75"/>
<circle cx="152.3" cy="162" r="1.75"/>
<circle cx="156.8" cy="166" r="1.75"/>
<circle cx="164.8" cy="171.3" r="1.75"/>
<circle cx="166.8" cy="171.5" r="1.75"/>
<circle cx="185.4" cy="182.8" r="1.75"/>
<circle cx="192.4" cy="186.5" r="1.75"/>
<circle cx="198.6" cy="187.9" r="1.75"/>
<circle cx="207.3" cy="194.1" r="1.75"/>
<circle cx="210.6" cy="194.6" r="1.75"/>
<circle cx="213" cy="198.4" r="1.75"/>
<circle cx="217.1" cy="198.4" r="1.75"/>
<circle cx="222.5" cy="202.7" r="1.75"/>
<circle cx="236.4" cy="208.5" r="1.75"/>
<circle cx="255.2" cy="207.3" r="1.75"/>
<circle cx="256.5" cy="206.5" r="1.75"/>
<circle cx="268.6" cy="205.8" r="1.75"/>
<circle cx="270.1" cy="205.6" r="1.75"/>
<circle cx="257.0" cy="217.3" r="1.75"/>
<circle cx="269.1" cy="226.4" r="1.75"/>
<circle cx="274.7" cy="230.2" r="1.75"/>
<circle cx="262.0" cy="221.8" r="3.2"/>
</g>
<g fill="#ff00ff">
<circle cx="223.4" cy="196.6" r="1.7"/>
<circle cx="225.9" cy="202.7" r="1.7"/>
<circle cx="275.2" cy="225.5" r="1.7"/>
</g>
<path d="M74.1,82.8 L81.5,90.2 M81.5,82.8 L74.1,90.2" stroke="#1f6e9c" stroke-width="1.3"/>
<path d="M90.2,106.3 L97.60000000000001,113.7 M97.60000000000001,106.3 L90.2,113.7" stroke="#ff0000" stroke-width="1.3"/>
<path d="M167.20000000000002,167.9 L174.6,175.29999999999998 M174.6,167.9 L167.20000000000002,175.29999999999998" stroke="#9900ff" stroke-width="1.3"/>
</svg></body></html>
